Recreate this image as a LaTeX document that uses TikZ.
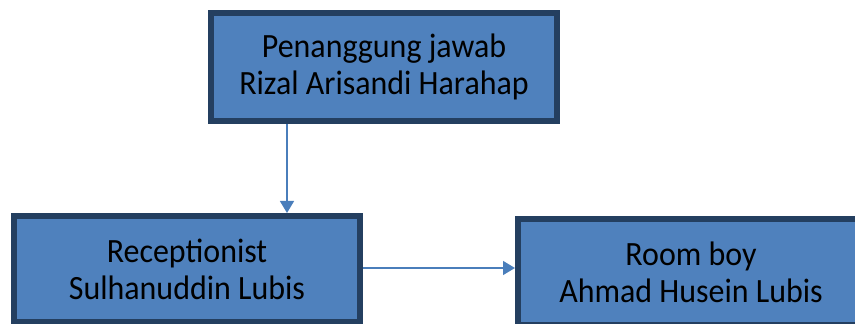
\documentclass[tikz,border=0pt]{standalone}
\usepackage{fontspec}
\setmainfont{Carlito}[FakeStretch=0.94]
\usetikzlibrary{arrows.meta}
\definecolor{boxfill}{HTML}{4F81BD}
\definecolor{boxline}{HTML}{243F60}
\definecolor{arrline}{HTML}{4A7EBB}
\begin{document}
\begin{tikzpicture}[x=1pt,y=1pt,
  orgbox/.style={draw=boxline, line width=6pt, fill=boxfill, minimum width=346pt,
    minimum height=106pt, align=center, font=\fontsize{34}{37}\selectfont, text=black, inner sep=0pt},
  arr/.style={draw=arrline, line width=1.5pt, -{Triangle[length=12pt,width=14pt]}}]
\useasboundingbox (0,0) rectangle (855,324);
\clip (0,0) rectangle (855,324);
\node[orgbox, minimum height=108pt] (top) at (384,257) {Penanggung jawab\\Rizal Arisandi Harahap};
\node[orgbox] (rec) at (187,55) {Receptionist\\Sulhanuddin Lubis};
\node[orgbox] (room) at (691,52) {Room boy\\Ahmad Husein Lubis};
\coordinate (ax) at (287,0);
\coordinate (ay) at (0,56);
\draw[arr] (top.south -| ax) -- (rec.north -| ax);
\draw[arr] (rec.east |- ay) -- (room.west |- ay);
\end{tikzpicture}
\end{document}
